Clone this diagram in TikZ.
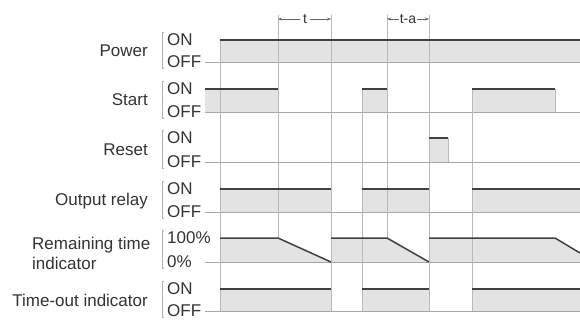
\documentclass[tikz,border=0pt]{standalone}
\usepackage{fontspec}
\setmainfont{Liberation Sans}
\usepackage{tikz}
\usetikzlibrary{arrows.meta}

\begin{document}
\begin{tikzpicture}[x=1pt, y=-1pt, every node/.style={font=\fontsize{17}{20}\selectfont, text=black!80, inner sep=0pt}]
  \tikzstyle{sig}=[draw=black!75, line width=1.5pt]
  \tikzstyle{area}=[fill=gray!22]
  \tikzstyle{base}=[draw=gray!70, line width=0.7pt]
  \tikzstyle{guide}=[draw=gray!55, line width=0.6pt]
  \tikzstyle{brk}=[draw=gray!60, line width=0.6pt]
  \tikzstyle{dim}=[draw=black!60, line width=0.6pt, >={Stealth[length=4pt,width=3pt]}]
  \useasboundingbox (0,0) rectangle (580,320);

  % row names
  \node[anchor=east] (pwr) at (148,51) {Power};
  \node[anchor=east] (sta) at (148,100) {Start};
  \node[anchor=east] (rst) at (148,150) {Reset};
  \node[anchor=east] (out) at (148,201) {Output relay};
  \node[anchor=west, align=left] (rem) at (32,253) {Remaining time\\indicator};
  \node[anchor=east] (tmo) at (148,300) {Time-out indicator};

  % level marks
  \foreach \n/\on/\off/\hi/\lo in {pwr/40/62/ON/OFF, sta/89/112/ON/OFF, rst/138/162/ON/OFF,
      out/189/212/ON/OFF, rem/238/262/100\%/0\%, tmo/289/311/ON/OFF} {
    \draw[brk] (164,\on-8) -- (162,\on-8) -- (162,\off+6) -- (164,\off+6);
    \node[anchor=west] (\n hi) at (167,\on) {\hi};
    \node[anchor=west] (\n lo) at (167,\off) {\lo};
  }

  % shaded areas
  \fill[area] (220,40) rectangle (580,62);
  \foreach \a/\b in {205/278, 362/387, 472/555}
    \fill[area] (\a,89) rectangle (\b,112);
  \fill[area] (429,138) rectangle (448,162);
  \foreach \a/\b in {220/331, 362/429, 472/580} {
    \fill[area] (\a,189) rectangle (\b,212);
    \fill[area] (\a,289) rectangle (\b,311);
  }
  \fill[area] (220,238) -- (278,238) -- (331,262) -- (220,262) -- cycle;
  \fill[area] (331,238) -- (387,238) -- (429,262) -- (331,262) -- cycle;
  \fill[area] (429,238) -- (555,238) -- (580,253) -- (580,262) -- (429,262) -- cycle;

  % base lines and edges
  \foreach \y in {62,112,162,212,262,311}
    \draw[base] (205,\y) -- (580,\y);
  \foreach \x/\a/\b in {220/40/311, 278/15/238, 331/15/311, 362/89/311, 387/15/238,
      429/15/311, 472/89/311, 448/138/162, 555/89/112}
    \draw[guide] (\x,\a) -- (\x,\b);

  % signal levels
  \draw[sig] (220,40) -- (580,40);
  \foreach \a/\b in {205/278, 362/387, 472/555}
    \draw[sig] (\a,89) -- (\b,89);
  \draw[sig] (429,138) -- (448,138);
  \foreach \a/\b in {220/331, 362/429, 472/580} {
    \draw[sig] (\a,189) -- (\b,189);
    \draw[sig] (\a,289) -- (\b,289);
  }
  \draw[sig] (220,238) -- (278,238) -- (331,262);
  \draw[sig] (331,238) -- (387,238) -- (429,262);
  \draw[sig] (429,238) -- (555,238) -- (580,253);

  % timing marks
  \coordinate (t0) at (278,19);
  \coordinate (t1) at (331,19);
  \coordinate (ta0) at (387,19);
  \coordinate (ta1) at (429,19);
  \node[font=\fontsize{14}{16}\selectfont, inner sep=3pt] (tlbl) at (305,19) {t};
  \node[font=\fontsize{14}{16}\selectfont, inner sep=1pt] (talbl) at (408,19) {t-a};
  \draw[<-, dim] (t0) -- (tlbl);
  \draw[->, dim] (tlbl) -- (t1);
  \draw[<-, dim] (ta0) -- (talbl);
  \draw[->, dim] (talbl) -- (ta1);
\end{tikzpicture}
\end{document}
